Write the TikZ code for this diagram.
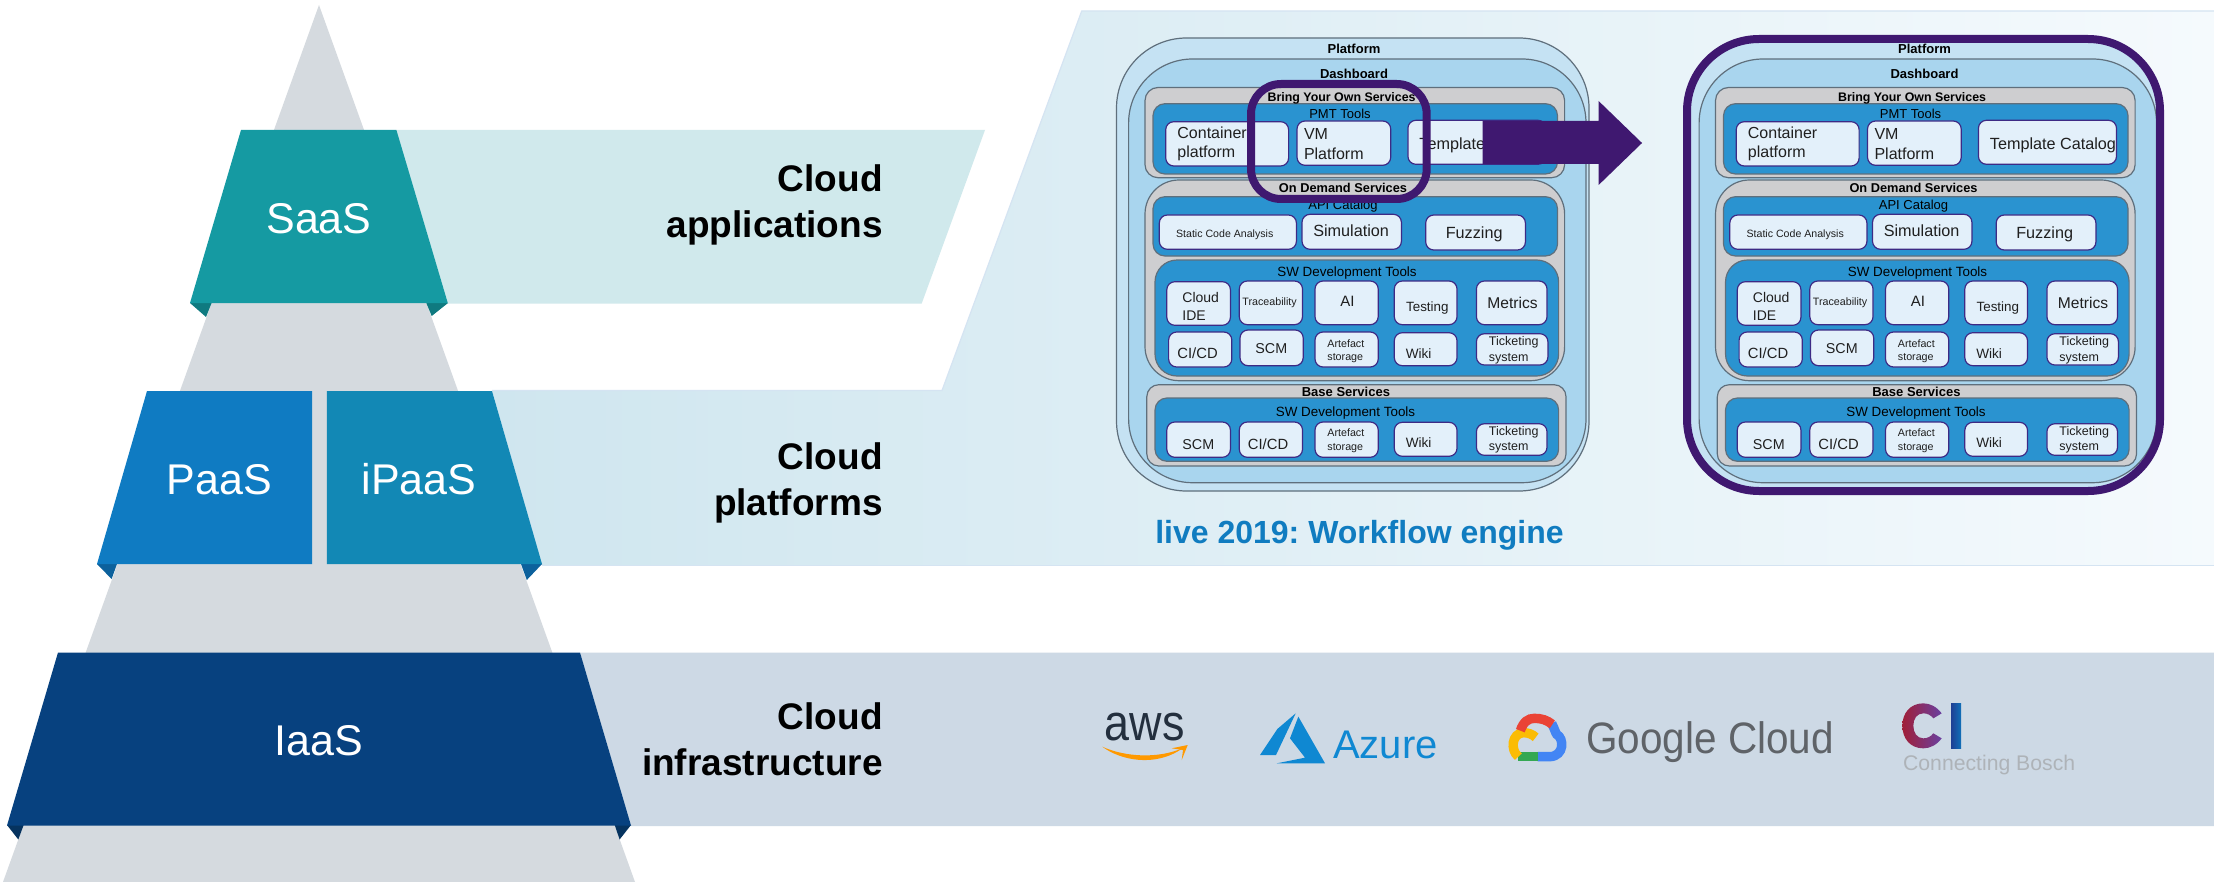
\documentclass[tikz,border=0pt]{standalone}
\usepackage{fontspec}
\setmainfont{Liberation Sans}
\AtBeginDocument{\frenchspacing}
\definecolor{pyr}{HTML}{D5DADF}
\definecolor{saas}{HTML}{159AA2}
\definecolor{saasf}{HTML}{0F7A80}
\definecolor{paas}{HTML}{0F7BC2}
\definecolor{ipaas}{HTML}{1288B5}
\definecolor{paasf}{HTML}{0C619C}
\definecolor{iaas}{HTML}{07417F}
\definecolor{iaasf}{HTML}{06335F}
\definecolor{bandA}{HTML}{D0E9EC}
\definecolor{bandL}{HTML}{CFE6EF}
\definecolor{bandR}{HTML}{F5FAFD}
\definecolor{bandE}{HTML}{D5E4F2}
\definecolor{bandC}{HTML}{CDD9E5}
\definecolor{plat}{HTML}{C5E2F3}
\definecolor{dash}{HTML}{A9D5EE}
\definecolor{greyb}{HTML}{CECED0}
\definecolor{blueb}{HTML}{2A93D0}
\definecolor{boxf}{HTML}{E3F0FA}
\definecolor{boxe}{HTML}{3D2A85}
\definecolor{edge}{HTML}{5F6F7C}
\definecolor{purp}{HTML}{3F1870}
\definecolor{livec}{HTML}{107CC0}
\definecolor{awsd}{HTML}{232F3E}
\definecolor{awso}{HTML}{FF9900}
\definecolor{azr}{HTML}{0F88D2}
\definecolor{gtxt}{HTML}{5F6368}
\definecolor{gred}{HTML}{EA4335}
\definecolor{gblue}{HTML}{4285F4}
\definecolor{ggreen}{HTML}{34A853}
\definecolor{gyel}{HTML}{FBBC04}
\definecolor{cigrey}{HTML}{AEB3B8}
\definecolor{ciA}{HTML}{A01F38}
\definecolor{ciB}{HTML}{D0202C}
\definecolor{ciC}{HTML}{6A40A0}
\definecolor{ciD}{HTML}{1F3F94}
\definecolor{ciE}{HTML}{1070B8}
\newcommand{\ttl}[5][]{\node[ttlstyle,font=\fontsize{#3}{#3}\selectfont#1] (\pfx#2) at (#4) {#5};}
\newcommand{\txt}[6]{\node[txtstyle,font=\fontsize{#2}{#3}\selectfont,align=left] (\pfx#1) at (#4,#5) {#6};}
\newcommand{\bx}[4]{\draw[boxstyle] (#1,#2) rectangle (#3,#4);}
\newcommand{\platformdiagram}[2]{%
  \def\pfx{#1}%
  \begin{scope}[shift={(#2,0)}]
    \draw[outerl,fill=plat,rounded corners=35pt] (1116.5,38) rectangle (1589,491);
    \draw[outerl,fill=dash,rounded corners=32pt] (1128.6,59) rectangle (1586,482.7);
    \draw[outerl,fill=greyb,rounded corners=6.5pt] (1145,87.5) rectangle (1564.6,177.7);
    \draw[outerl,fill=greyb,rounded corners=17pt] (1145,180) rectangle (1564.6,380.7);
    \draw[outerl,fill=greyb,rounded corners=6pt] (1146.8,384.7) rectangle (1566,466);
    \draw[outerl,fill=blueb,rounded corners=6pt] (1153,103.7) rectangle (1557.5,174);
    \draw[outerl,fill=blueb,rounded corners=6pt] (1153,196.7) rectangle (1557.5,256);
    \draw[outerl,fill=blueb,rounded corners=11pt] (1155,260) rectangle (1558.6,376);
    \draw[outerl,fill=blueb,rounded corners=6pt] (1155,398) rectangle (1558.6,461.3);
    % boxes
    \bx{1165.7}{121.7}{1288.6}{166}
    \bx{1297}{121}{1390.7}{165.3}
    \bx{1407.9}{120.3}{1546}{164.3}
    \bx{1159.3}{215}{1296.4}{249.3}
    \bx{1302}{214.3}{1401.4}{249.3}
    \bx{1425.7}{215}{1525.4}{250}
    \bx{1166.8}{281.7}{1230.4}{325.3}
    \bx{1239.3}{281}{1302.5}{324.7}
    \bx{1315}{281}{1378.2}{324.7}
    \bx{1394.3}{281}{1457}{324.7}
    \bx{1476.4}{281}{1547}{324.7}
    \bx{1168.6}{332}{1231.8}{367}
    \bx{1240}{330}{1303.2}{365.7}
    \bx{1315}{332}{1378.2}{367}
    \bx{1394.3}{332.7}{1457}{365.7}
    \bx{1476.4}{333.7}{1547.9}{365}
    \bx{1166.8}{422}{1230.4}{457.3}
    \bx{1239.3}{422}{1302.5}{457.3}
    \bx{1315}{422}{1378.2}{457.3}
    \bx{1394.3}{422.3}{1457}{456.3}
    \bx{1476.4}{423.7}{1547}{455.3}
    % titles
    \ttl[\bfseries]{platform}{6.5}{1354,53.3}{Platform}
    \ttl[\bfseries]{dashboard}{6.5}{1354,78.3}{Dashboard}
    \ttl[\bfseries]{byos}{6.2}{1341.6,101.7}{Bring Your Own Services}
    \ttl{pmt}{6.5}{1340,118.3}{PMT Tools}
    \ttl[\bfseries]{ods}{6.4}{1343,192.3}{On Demand Services}
    \ttl{api}{6.5}{1343,210}{API Catalog}
    \ttl{swa}{6.7}{1347,276}{SW Development Tools}
    \ttl[\bfseries]{base}{6.5}{1345.9,396}{Base Services}
    \ttl{swb}{6.7}{1345.5,416}{SW Development Tools}
    % texts
    \txt{cont}{8}{9.7}{1177}{157.7}{Container\\platform}
    \txt{vm}{8}{9.65}{1303.6}{159.3}{VM\\Platform}
    \txt{tmpl}{8.1}{9.7}{1419}{149.3}{Template Catalog}
    \txt{stat}{5.3}{6}{1175.7}{237.3}{Static Code Analysis}
    \txt{simu}{8.1}{9.7}{1312.9}{236.7}{Simulation}
    \txt{fuzz}{8.1}{9.7}{1445.4}{239}{Fuzzing}
    \txt{ide}{7}{8.65}{1182}{320}{Cloud\\IDE}
    \txt{trac}{5.35}{6}{1242}{305.7}{Traceability}
    \txt{ai}{7.5}{9}{1340}{306}{AI}
    \txt{test}{6.7}{8}{1405.7}{311.7}{Testing}
    \txt{metr}{7.8}{9}{1487}{308.3}{Metrics}
    \txt{cicd}{7.4}{9}{1177}{358.7}{CI/CD}
    \txt{scm}{7.15}{9}{1255}{353}{SCM}
    \txt{art}{5.35}{6.85}{1327}{360.7}{Artefact\\storage}
    \txt{wiki}{6.8}{8}{1405.4}{358}{Wiki}
    \txt{tick}{6.25}{7.85}{1488.5}{361}{Ticketing\\system}
    \txt{bscm}{7.15}{9}{1182}{449.3}{SCM}
    \txt{bcicd}{7.4}{9}{1247.5}{449}{CI/CD}
    \txt{bart}{5.35}{6.85}{1327}{450.3}{Artefact\\storage}
    \txt{bwiki}{6.8}{8}{1405.4}{447.3}{Wiki}
    \txt{btick}{6.25}{7.85}{1488.5}{450.7}{Ticketing\\system}
  \end{scope}}
\tikzset{
  ttlstyle/.style={inner sep=0pt,anchor=base,text=black},
  txtstyle/.style={inner sep=0pt,anchor=base west,text=black!88},
  boxstyle/.style={draw=boxe,fill=boxf,line width=.6pt,rounded corners=4pt},
  outerl/.style={draw=edge,line width=.6pt},
  tier/.style={inner sep=0pt,text=white,font=\fontsize{21.5}{24}\selectfont},
  layerlabel/.style={inner sep=0pt,anchor=base east,align=right,text=black,font=\fontsize{18.5}{22.75}\selectfont\bfseries},
}
\begin{document}
\begin{tikzpicture}[x=.5pt,y=-.5pt]
\useasboundingbox (0,0) rectangle (2214,882);
\fill[white] (0,0) rectangle (2214,882);
\clip (0,0) rectangle (2214,882);
% pyramid
\fill[pyr] (319,5) -- (635,882) -- (3,882) -- cycle;
% bands
\fill[bandA] (396,130) -- (985,130) -- (921.7,303.5) -- (448,303.5) -- cycle;
\shade[left color=bandL,right color=bandR] (492,390.5) -- (942,390.5) -- (1081.7,11) -- (2214,11) -- (2214,565.5) -- (542,565.5) -- cycle;
\draw[bandE,line width=.6pt] (492,390.5) -- (942,390.5) -- (1081.7,11) -- (2214,11);
\draw[bandE,line width=.6pt] (542,565.5) -- (2214,565.5);
\fill[bandC] (580,652.5) -- (2214,652.5) -- (2214,826) -- (631,826) -- cycle;
% trapezoids
\fill[saasf] (190,303) -- (211.6,303) -- (206,317) -- cycle;
\fill[saasf] (426.3,303) -- (448,303) -- (431.7,316) -- cycle;
\fill[saas] (241,130) -- (396.4,130) -- (447.8,303) -- (190,303) -- cycle;
\fill[paasf] (97,564) -- (117,564) -- (111.6,579) -- cycle;
\fill[paasf] (521,564) -- (542,564) -- (526.8,580) -- cycle;
\fill[paas] (147,391) -- (312,391) -- (312,564) -- (97,564) -- cycle;
\fill[ipaas] (326.8,391) -- (492,391) -- (542,564) -- (326.8,564) -- cycle;
\fill[iaasf] (7,825) -- (23.7,825) -- (18.3,839.5) -- cycle;
\fill[iaasf] (614.7,825) -- (631,825) -- (619.6,839.5) -- cycle;
\fill[iaas] (58,652.5) -- (580,652.5) -- (631,825.5) -- (7,825.5) -- cycle;
\node[tier] (saasl) at (319,218.5) {SaaS};
\node[tier] (paasl) at (219.5,479.5) {PaaS};
\node[tier] (ipaasl) at (419,479.5) {iPaaS};
\node[tier] (iaasl) at (319,740.5) {IaaS};
\node[layerlabel] (lapp) at (883,237) {Cloud\\applications};
\node[layerlabel] (lplat) at (883,515) {Cloud\\platforms};
\node[layerlabel] (linf) at (883,775) {Cloud\\infrastructure};
% diagrams
\platformdiagram{l}{0}
\platformdiagram{r}{570.5}
\node[inner sep=0pt,anchor=base,text=livec,font=\fontsize{16}{16}\selectfont\bfseries] (live) at (1359.5,543.3) {live 2019: Workflow engine};
% right frame
\draw[purp,line width=4pt,rounded corners=36pt] (1687,39) rectangle (2160,491);
% arrow
\fill[purp] (1482.5,121) -- (1598.6,121) -- (1598.6,101) -- (1642,143) -- (1598.6,185) -- (1598.6,164) -- (1482.5,164) -- cycle;
% highlight
\draw[purp,line width=4pt,rounded corners=15pt] (1251,84) rectangle (1426.7,199);
% logos: aws
\node[inner sep=0pt,anchor=base west,text=awsd,font=\fontsize{25.5}{26}\selectfont] (aws) at (1104.5,740) {\scalebox{.88}[1]{aws}};
\fill[awso] (1102.3,746.7) .. controls (1120,760) and (1155,768) .. (1183,748) .. controls (1158,759) and (1125,757) .. (1102.3,746.7) -- cycle;
\fill[awso] (1171.7,748.3) -- (1187.7,745) -- (1181.7,760) -- (1183,750) -- cycle;
% azure
\begin{scope}[shift={(1250,705)},scale=1/3]
\fill[azr] (137,25) -- (82,72) -- (30,150) -- (78,150) -- cycle;
\fill[azr] (145,35) -- (120,100) -- (165,158) -- (80,175) -- (225,175) -- cycle;
\end{scope}
\node[inner sep=0pt,anchor=base west,text=azr,font=\fontsize{20}{20}\selectfont] (azure) at (1332.7,758) {Azure};
% google
\begin{scope}[shift={(1495,700)},scale=1/3,line width=4.7pt]
\draw[gblue] (170,70) .. controls (178,85) and (180,95) .. (185,103) .. controls (208,115) and (208,168) .. (165,170) -- (128,170);
\draw[ggreen] (130,170) -- (68,170);
\draw[gyel] (70,170) .. controls (45,150) and (50,100) .. (85,98) .. controls (100,98) and (112,103) .. (122,112);
\draw[gred] (76,92) .. controls (85,65) and (100,55) .. (118,55) .. controls (140,55) and (155,60) .. (172,73);
\end{scope}
\node[inner sep=0pt,anchor=base west,text=gtxt,font=\fontsize{22}{22}\selectfont] (gcloud) at (1586,753) {\scalebox{.92}[1]{Google Cloud}};
% CI
\begin{scope}[shift={(1890,695)},scale=1/3]
\shade[left color=ciA,middle color=ciB,right color=ciC] (155,55) .. controls (140,35) and (120,25) .. (100,25) .. controls (60,25) and (37,55) .. (37,92) .. controls (37,130) and (60,160) .. (100,160) .. controls (120,160) and (140,150) .. (155,130) -- (130,115) .. controls (122,125) and (112,130) .. (100,130) .. controls (80,130) and (70,112) .. (70,92) .. controls (70,72) and (80,55) .. (100,55) .. controls (112,55) and (122,60) .. (130,70) -- cycle;
\shade[left color=ciD,right color=ciE] (183,25) rectangle (213,160);
\end{scope}
\node[inner sep=0pt,anchor=base west,text=cigrey,font=\fontsize{10.6}{11}\selectfont] (cib) at (1902.7,770) {Connecting Bosch};
\end{tikzpicture}
\end{document}
